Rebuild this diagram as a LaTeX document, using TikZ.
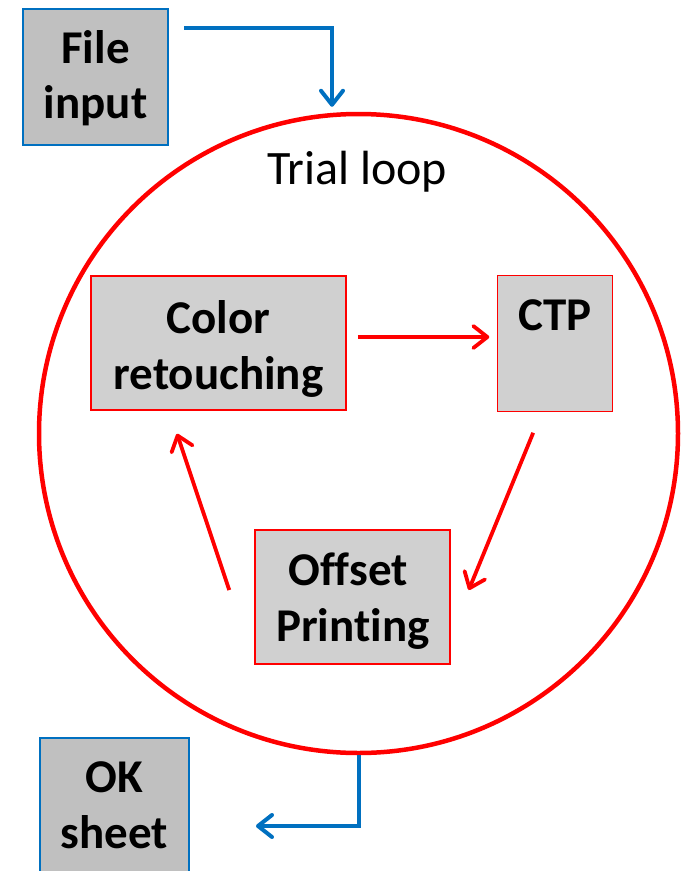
\documentclass[tikz,border=0pt]{standalone}
\usepackage{fontspec}
\setmainfont{Carlito}[Ligatures=NoCommon]
\usetikzlibrary{arrows.meta,calc}
\definecolor{msblue}{HTML}{0070C0}
\definecolor{msred}{HTML}{FF0000}
\definecolor{boxgray}{HTML}{C0C0C0}
\definecolor{lightgray}{HTML}{D0D0D0}
\begin{document}
\begin{tikzpicture}[x=1pt,y=-1pt,
  bluebox/.style={draw=msblue,line width=2pt,fill=boxgray,inner sep=0pt},
  redbox/.style={draw=msred,line width=1.5pt,fill=lightgray,inner sep=0pt},
  lbl/.style={font=\fontsize{47}{55}\selectfont\bfseries,anchor=base,inner sep=0pt},
  bluearrow/.style={draw=msblue,line width=4pt,-{Straight Barb[length=14pt,width=22pt,round]}},
  redarrow/.style={draw=msred,line width=3.8pt,-{Straight Barb[length=14pt,width=22pt,round]}}]
\useasboundingbox (0,0) rectangle (683,871);
% loop circle
\node[circle,draw=msred,line width=4.5pt,minimum size=639pt,inner sep=0pt] (loop) at (358.5,433.5) {};
\node[font=\fontsize{48}{52}\selectfont,anchor=base,inner sep=0pt] (trial) at (357,184) {Trial loop};
% boxes
\node[bluebox,minimum width=145pt,minimum height=136pt] (file) at (95.5,77) {};
\node[lbl] (filet1) at (95.5,63) {File};
\node[lbl] (filet2) at (95.5,118) {input};
\node[redbox,minimum width=255pt,minimum height=134pt] (color) at (218.5,343) {};
\node[lbl] (colort1) at (218.5,333) {Color};
\node[lbl] (colort2) at (218.5,389) {retouching};
\node[redbox,minimum width=115pt,minimum height=136pt] (ctp) at (555.2,343.7) {};
\node[lbl] (ctpt) at (555.2,330) {CTP};
\node[redbox,minimum width=195pt,minimum height=134pt] (offset) at (352.5,597) {};
\node[lbl] (offsett1) at (348,585) {Offset};
\node[lbl] (offsett2) at (353,641) {Printing};
\node[bluebox,minimum width=149pt,minimum height=138pt] (ok) at (114.5,807) {};
\node[lbl] (okt1) at (114.5,792) {OK};
\node[lbl] (okt2) at (114.5,848) {sheet};
% red connectors
\draw[redarrow] ($(color.east)+(11,-6)$) -- ($(ctp.west)+(-7.7,-6.7)$);
\draw[redarrow] ($(ctp.south)+(-22,20.3)$) -- ($(offset.east)+(18,-7)$);
\draw[redarrow] ($(offset.west)+(-25,-7)$) -- ($(color.south)+(-41.5,23)$);
% blue connectors
\draw[bluearrow] ($(file.east)+(15,-49)$) -| ($(loop.north)+(-26.5,-5)$);
\draw[bluearrow] (loop.south) |- ($(ok.east)+(66,19)$);
\end{tikzpicture}
\end{document}
